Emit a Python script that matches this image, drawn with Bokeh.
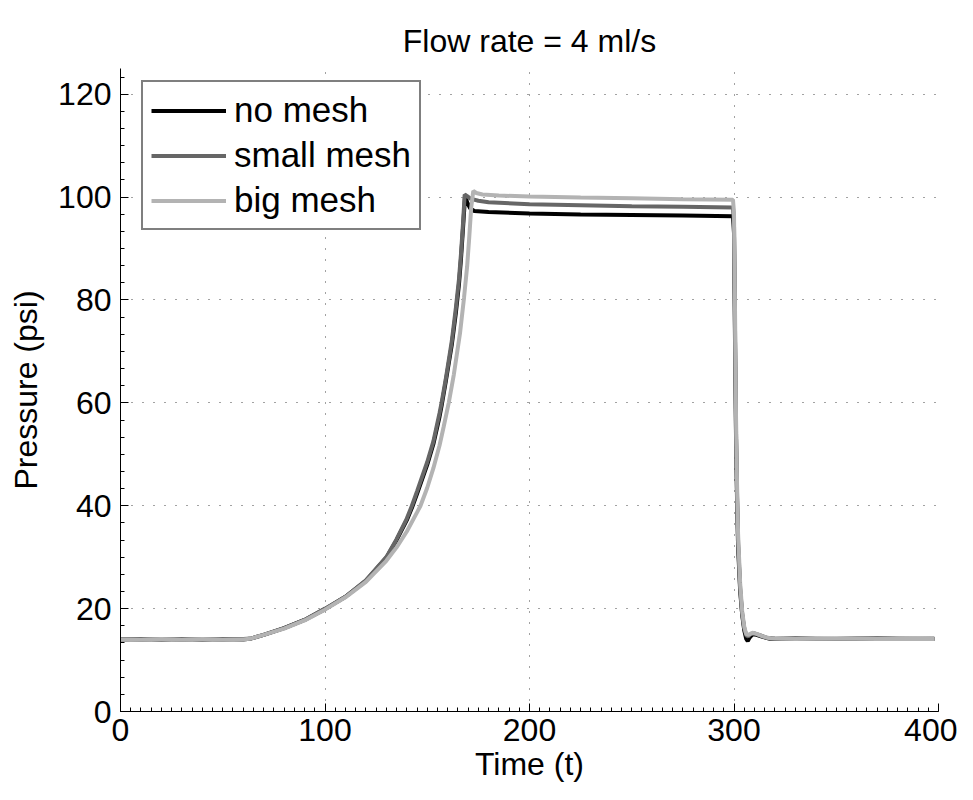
from bokeh.plotting import figure
from bokeh.models import Range1d, FixedTicker, Legend, LegendItem
from bokeh.embed import file_html
from bokeh.resources import INLINE

# ---------------- data ----------------
t_no = [0, 10, 20, 30, 40, 50, 60, 64, 70, 80, 90, 100, 110, 120, 130, 135, 140,
        142.5, 145, 150, 153, 156, 157, 159, 162, 164, 165.5, 166.5, 167.5, 168.5,
        169.5, 171, 173, 180, 200, 225, 250, 275, 299.5, 300, 300.5, 301, 301.5,
        302, 303, 304, 305, 306, 306.7, 307.5, 309, 311, 314, 318, 330, 350, 370, 398]
p_no = [14.0, 14.1, 14.0, 14.1, 14.0, 14.1, 14.0, 14.2, 14.9, 16.2, 17.8, 19.9, 22.3, 25.4, 29.9, 33.3, 37.2,
        39.6, 42.3, 48.0, 52.0, 57.3, 59.4, 64.0, 71.3, 77.5, 83.0, 88.0, 94.0, 100.2,
        99.0, 97.8, 97.3, 97.1, 96.8, 96.6, 96.5, 96.4, 96.3, 93.0, 72.0, 53.0, 41.0,
        32.0, 23.5, 18.8, 15.8, 14.1, 13.7, 14.3, 15.0, 14.9, 14.5, 14.1, 14.2, 14.1, 14.2, 14.1]

t_small = [0, 10, 20, 30, 40, 50, 60, 64, 70, 80, 90, 100, 110, 120, 130, 135, 140,
           142.5, 145, 150, 153, 156, 157, 159, 162, 164, 165.5, 166.5, 167.5, 168.3,
           169.5, 171, 175, 180, 200, 225, 250, 275, 299.5, 300, 300.5, 301, 301.5,
           302, 303, 304, 305, 306, 307, 308, 310, 313, 316, 320, 340, 360, 380, 398]
p_small = [14.1, 14.0, 14.1, 14.0, 14.1, 14.0, 14.1, 14.2, 14.9, 16.2, 17.8, 20.0, 22.3, 25.5, 30.0, 33.5, 37.5,
           40.0, 42.8, 48.5, 52.5, 58.0, 60.0, 64.5, 72.0, 78.5, 84.0, 89.0, 95.0, 100.5,
           100.2, 99.7, 99.3, 99.0, 98.6, 98.4, 98.2, 98.1, 98.0, 95.0, 74.0, 54.0, 42.0,
           33.0, 24.0, 19.0, 16.2, 14.8, 14.6, 15.0, 15.2, 14.8, 14.3, 14.2, 14.1, 14.2, 14.1, 14.2]

t_big = [0, 10, 20, 30, 40, 50, 60, 64, 70, 80, 90, 100, 110, 120, 130, 135, 140,
         145, 146.7, 150, 153, 156, 158, 160.5, 163, 166, 168, 169.5, 170.5, 171.5, 172.5,
         174, 177, 185, 200, 225, 250, 275, 299.5, 300, 300.5, 301, 301.5, 302, 303,
         304, 305, 306, 307, 309, 311, 314, 318, 330, 350, 370, 398]
p_big = [14.0, 14.0, 14.1, 14.0, 14.1, 14.0, 14.0, 14.2, 14.9, 16.1, 17.7, 19.8, 22.2, 25.2, 29.3, 31.9, 35.0,
         38.7, 40.0, 43.5, 47.3, 51.7, 55.3, 60.0, 65.5, 73.5, 80.5, 86.5, 92.0, 98.0, 101.2,
         100.8, 100.5, 100.3, 100.1, 99.9, 99.8, 99.6, 99.5, 97.0, 78.0, 57.0, 44.0, 34.5, 25.0,
         19.5, 16.5, 15.0, 14.9, 15.3, 15.1, 14.6, 14.2, 14.1, 14.2, 14.1, 14.1]

x_ticks = [0, 100, 200, 300, 400]
y_ticks = [0, 20, 40, 60, 80, 100, 120]
series_names = ["no mesh", "small mesh", "big mesh"]
series_colors = ["#000000", "#666666", "#b3b3b3"]

FONT = "Liberation Sans"

p = figure(width=957, height=784, output_backend="svg", toolbar_location=None,
           x_range=Range1d(0, 400), y_range=Range1d(0, 125),
           min_border_left=120, min_border_right=19, min_border_top=68, min_border_bottom=73,
           title="Flow rate = 4 ml/s")
p.outline_line_color = None
p.background_fill_color = "white"

p.title.text_font = FONT
p.title.text_font_size = "32px"
p.title.text_font_style = "normal"
p.title.text_color = "black"
p.title.align = "center"
p.title.standoff = 20

# axes
for ax in (p.xaxis[0], p.yaxis[0]):
    ax.axis_line_color = "black"
    ax.axis_line_width = 1
    ax.major_tick_in = 8
    ax.major_tick_out = 0
    ax.minor_tick_in = 4
    ax.minor_tick_out = 0
    ax.major_tick_line_color = "black"
    ax.minor_tick_line_color = "black"
    ax.major_label_text_font = FONT
    ax.major_label_text_font_size = "32px"
    ax.major_label_text_color = "black"
    ax.axis_label_text_font = FONT
    ax.axis_label_text_font_size = "32px"
    ax.axis_label_text_font_style = "normal"
    ax.axis_label_text_color = "black"

p.xaxis.ticker = FixedTicker(ticks=x_ticks, minor_ticks=list(range(0, 401, 5)))
p.yaxis.ticker = FixedTicker(ticks=y_ticks, minor_ticks=[i * 20 / 6 for i in range(0, 38)])
p.xaxis.axis_label = "Time (t)"
p.yaxis.axis_label = "Pressure (psi)"
p.xaxis.major_label_standoff = 7
p.xaxis.axis_label_standoff = 2
p.yaxis.major_label_standoff = 9
p.yaxis.axis_label_standoff = 11

# grid
for g in (p.xgrid[0], p.ygrid[0]):
    g.grid_line_color = "#444444"
    g.grid_line_width = 1
    g.grid_line_dash = "1 10"
p.xgrid.ticker = FixedTicker(ticks=x_ticks)
p.ygrid.ticker = FixedTicker(ticks=y_ticks)

r_no = p.line(t_no, p_no, line_color=series_colors[0], line_width=4)
r_small = p.line(t_small, p_small, line_color=series_colors[1], line_width=4)
r_big = p.line(t_big, p_big, line_color=series_colors[2], line_width=4)

legend = Legend(items=[LegendItem(label=series_names[0], renderers=[r_no]),
                       LegendItem(label=series_names[1], renderers=[r_small]),
                       LegendItem(label=series_names[2], renderers=[r_big])],
                location=(21, 481))
legend.label_text_font = FONT
legend.label_text_font_size = "35px"
legend.label_text_color = "black"
legend.glyph_width = 75
legend.glyph_height = 39
legend.label_height = 39
legend.label_standoff = 8
legend.spacing = 5
legend.padding = 8
legend.margin = 0
legend.border_line_color = "black"
legend.border_line_width = 2
legend.background_fill_color = "white"
legend.background_fill_alpha = 1
p.add_layout(legend, "center")

open("out.html", "w").write(file_html(p, INLINE))
